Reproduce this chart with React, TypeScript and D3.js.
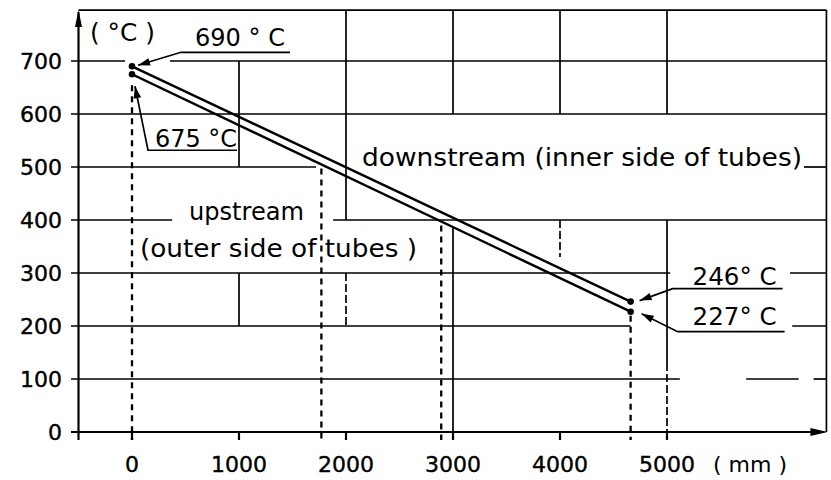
import React from "react";
import * as d3 from "d3";

// ---- data ----
const positions = [0, 4660]; // mm, start and end of tube
const downstreamTemps = [690, 246]; // inner side of tubes (°C)
const upstreamTemps = [675, 227]; // outer side of tubes (°C)
const dropLinePositions = [0, 1770, 2890, 4660]; // mm, dashed markers
const xTicks = [0, 1000, 2000, 3000, 4000, 5000];
const yTicks = [0, 100, 200, 300, 400, 500, 600, 700];
const pointLabels = ["690 ° C", "675 °C", "246° C", "227° C"];
const yUnit = "( °C )";
const xUnit = "( mm )";
const upstreamLabel = ["upstream", "(outer side of tubes )"];
const downstreamLabel = "downstream (inner side of tubes)";

// ---- layout ----
const W = 831;
const H = 480;
const X_MIN = -500;
const X_MAX = 6490;
const Y_TOP = 796;
const TICK_X = -570;

const x = d3.scaleLinear().domain([0, 5000]).range([132, 667]);
const y = d3.scaleLinear().domain([0, 700]).range([432, 61]);

// grid segments (data units), broken where the drawing had text
const vSegs: [number, number, number, boolean][] = [
  [1000, 700, 500, false],
  [1000, 300, 200, false],
  [2000, Y_TOP, 400, false],
  [2000, 300, 200, true],
  [3000, Y_TOP, 600, false],
  [3000, 385, 0, false],
  [4000, Y_TOP, 600, false],
  [4000, 400, 330, true],
  [5000, Y_TOP, 600, false],
  [5000, 400, 130, false],
  [5000, 130, 0, true],
  [X_MAX, Y_TOP, 0, false],
];
const hSegs: [number, number, number][] = [
  [Y_TOP, X_MIN, X_MAX],
  [700, TICK_X, -65],
  [700, 355, X_MAX],
  [600, TICK_X, X_MAX],
  [500, TICK_X, 1720],
  [500, 6280, X_MAX],
  [400, TICK_X, 375],
  [400, 1880, X_MAX],
  [300, TICK_X, 5030],
  [300, 6150, X_MAX],
  [200, TICK_X, 4660],
  [200, 6170, X_MAX],
  [100, TICK_X, 5120],
  [100, 5740, 6230],
  [100, 6370, X_MAX],
];

// annotation offsets (px) relative to the annotated point
const annLayout = [
  { tip: [6, -1], elbow: [49, -14], end: [158, -14], text: [63, -20], len: 90 },
  { tip: [3, 12], elbow: [16, 76], end: [105, 76], text: [23, 73], len: 82 },
  { tip: [9, -1], elbow: [42, -13], end: [152, -13], text: [62, -17], len: 84 },
  { tip: [11, 2], elbow: [47, 20], end: [154, 20], text: [62, 13], len: 84 },
];

const FONT = "'DejaVu Sans', sans-serif";

function arrowHead(fx: number, fy: number, tx: number, ty: number, len = 11, hw = 3.5) {
  const a = Math.atan2(ty - fy, tx - fx);
  const bx = tx - len * Math.cos(a);
  const by = ty - len * Math.sin(a);
  const px = -Math.sin(a) * hw;
  const py = Math.cos(a) * hw;
  return `M${tx},${ty}L${bx + px},${by + py}L${bx - px},${by - py}Z`;
}

export default function App() {
  const lineGen = d3
    .line<[number, number]>()
    .x((d) => x(d[0]))
    .y((d) => y(d[1]));
  const down: [number, number][] = positions.map((p, i) => [p, downstreamTemps[i]]);
  const up: [number, number][] = positions.map((p, i) => [p, upstreamTemps[i]]);

  const lowerAt = (p: number) => {
    const t = (p - positions[0]) / (positions[1] - positions[0]);
    return upstreamTemps[0] + t * (upstreamTemps[1] - upstreamTemps[0]);
  };

  const annPoints: [number, number][] = [
    [positions[0], downstreamTemps[0]],
    [positions[0], upstreamTemps[0]],
    [positions[1], downstreamTemps[1]],
    [positions[1], upstreamTemps[1]],
  ];

  const axisY = y(0);
  const yAxisX = x(X_MIN);

  return (
    <svg width={W} height={H} style={{ position: "absolute", left: 0, top: 0, background: "#fff" }}>
      <rect width={W} height={H} fill="#fff" />
      {/* grid */}
      <g stroke="#000" strokeWidth={1.7} fill="none">
        {hSegs.map(([v, a, b], i) => (
          <line key={"h" + i} x1={x(a)} x2={x(b)} y1={y(v)} y2={y(v)} />
        ))}
        {vSegs.map(([p, a, b, dashed], i) => (
          <line
            key={"v" + i}
            x1={x(p)}
            x2={x(p)}
            y1={y(a)}
            y2={y(b)}
            strokeDasharray={dashed ? "8 3" : undefined}
          />
        ))}
      </g>
      {/* axes */}
      <g stroke="#000" strokeWidth={2.2} fill="none">
        <line x1={x(TICK_X)} x2={x(X_MAX) - 2} y1={axisY} y2={axisY} />
        <line x1={yAxisX} x2={yAxisX} y1={y(-15)} y2={y(Y_TOP) + 2} />
        {xTicks.map((t) => (
          <line key={t} x1={x(t)} x2={x(t)} y1={axisY} y2={axisY + 8} />
        ))}
      </g>
      <path d={arrowHead(x(X_MAX) - 30, axisY, x(X_MAX) + 1, axisY, 17, 4)} fill="#000" />
      <path d={arrowHead(yAxisX, y(Y_TOP) + 30, yAxisX, y(Y_TOP), 17, 3.5)} fill="#000" />
      {/* dashed drop lines */}
      <g stroke="#000" strokeWidth={2.3} strokeDasharray="6 5">
        {dropLinePositions.map((p, i) => {
          const top = i === 0 ? y(lowerAt(p)) + 11 : y(lowerAt(p)) + 4;
          return <line key={p} x1={x(p)} x2={x(p)} y1={top} y2={y(-15)} />;
        })}
      </g>
      {/* temperature lines */}
      <path d={lineGen(down) || ""} stroke="#000" strokeWidth={2.4} fill="none" />
      <path d={lineGen(up) || ""} stroke="#000" strokeWidth={2.4} fill="none" />
      {annPoints.map(([p, v], i) => (
        <circle key={i} cx={x(p)} cy={y(v)} r={3.3} fill="#000" />
      ))}
      {/* annotations */}
      {annPoints.map(([p, v], i) => {
        const L = annLayout[i];
        const px = x(p);
        const py = y(v);
        const tx = px + L.tip[0];
        const ty = py + L.tip[1];
        const ex = px + L.elbow[0];
        const ey = py + L.elbow[1];
        return (
          <g key={"a" + i}>
            <path
              d={`M${px + L.end[0]},${py + L.end[1]}L${ex},${ey}L${tx},${ty}`}
              stroke="#000"
              strokeWidth={1.7}
              fill="none"
            />
            <path d={arrowHead(ex, ey, tx, ty, 12, 3.8)} fill="#000" />
            <text
              x={px + L.text[0]}
              y={py + L.text[1]}
              fontFamily={FONT}
              fontSize={25}
              textLength={L.len}
              lengthAdjust="spacingAndGlyphs"
              fill="#000"
            >
              {pointLabels[i]}
            </text>
          </g>
        );
      })}
      {/* tick labels */}
      <g fontFamily={FONT} fontSize={22} fill="#000" stroke="#000" strokeWidth={0.4}>
        {yTicks.map((t) => (
          <text key={t} x={62} y={y(t) + 8} textAnchor="end">
            {t}
          </text>
        ))}
        {xTicks.map((t) => (
          <text key={t} x={x(t)} y={472} textAnchor="middle">
            {t}
          </text>
        ))}
      </g>
      {/* unit labels and region labels */}
      <g fontFamily={FONT} fontSize={25} fill="#000">
        <text x={90} y={41} textLength={65} lengthAdjust="spacingAndGlyphs">
          {yUnit}
        </text>
        <text x={713} y={472} fontSize={22} textLength={74} lengthAdjust="spacingAndGlyphs">
          {xUnit}
        </text>
        <text x={189} y={220} fontSize={24} textLength={115} lengthAdjust="spacingAndGlyphs">
          {upstreamLabel[0]}
        </text>
        <text x={140} y={257} fontSize={24} textLength={277} lengthAdjust="spacingAndGlyphs">
          {upstreamLabel[1]}
        </text>
        <text x={362} y={166} fontSize={24} textLength={440} lengthAdjust="spacingAndGlyphs">
          {downstreamLabel}
        </text>
      </g>
    </svg>
  );
}
